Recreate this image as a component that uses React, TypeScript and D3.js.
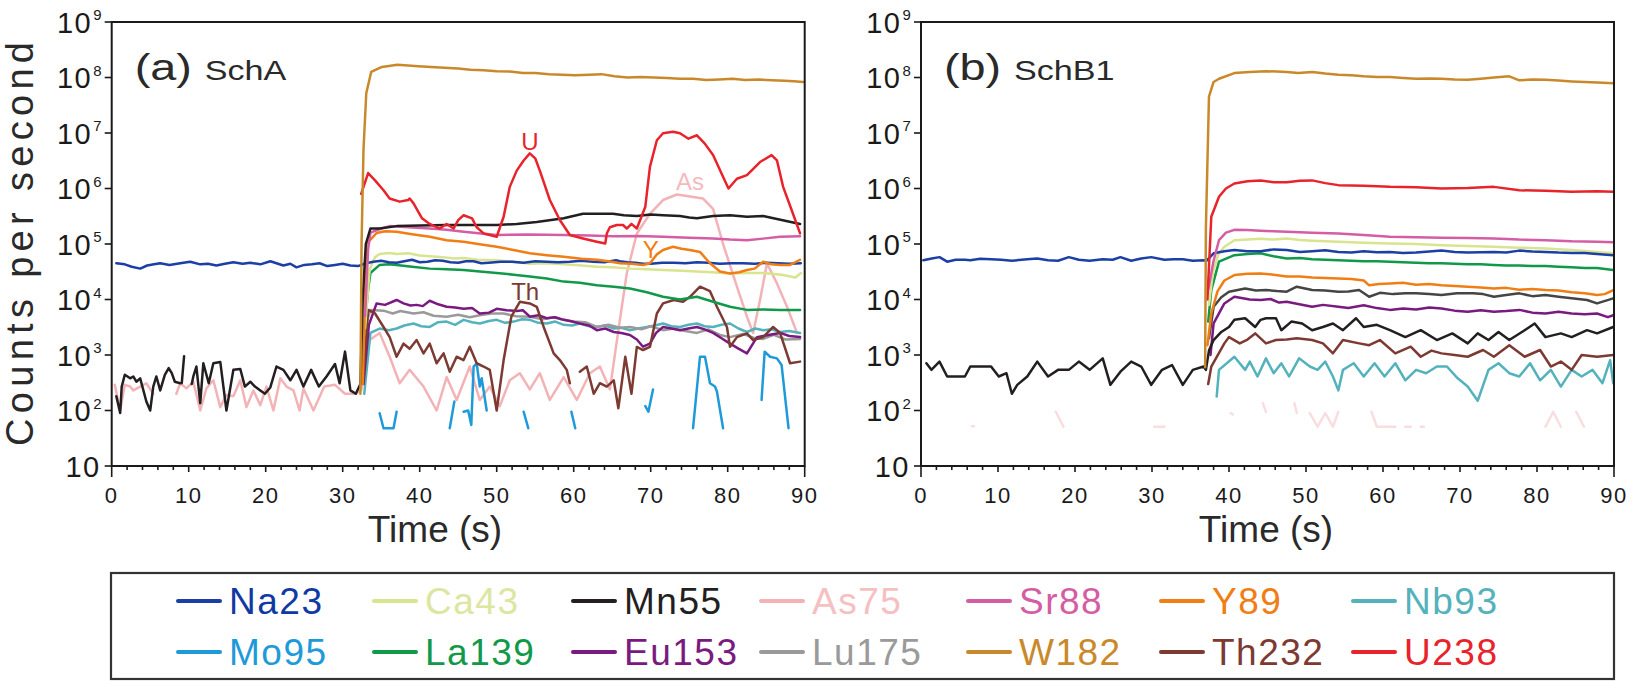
import React from "react";
import * as d3 from "d3";

type Pt = [number, number | null];

const FONT = "'Liberation Sans', Arial, Helvetica, sans-serif";

const ELEMENTS = ["Na23", "Ca43", "Mn55", "As75", "Sr88", "Y89", "Nb93", "Mo95", "La139", "Eu153", "Lu175", "W182", "Th232", "U238"];
const COLORS = ["#1b3fa5", "#d9e48e", "#231f20", "#f3b3b6", "#d45da3", "#f07e14", "#53b2bc", "#1f9ad9", "#11994a", "#7a1a80", "#9a9a9a", "#c9892b", "#7c3a33", "#e8232b"];
const LEGEND_TEXT = ["#0f3aa3", "#dde6a0", "#231f20", "#f5c0c2", "#d45da3", "#f07e14", "#53b2bc", "#1f9ad9", "#11994a", "#7a1a80", "#9a9a9a", "#c9892b", "#7c3a33", "#e8232b"];
const DRAW_ORDER = ["As75", "Mo95", "Nb93", "Lu175", "Eu153", "Th232", "La139", "Ca43", "Na23", "Y89", "Sr88", "Mn55", "U238", "W182"];

const X_TICKS = [0, 10, 20, 30, 40, 50, 60, 70, 80, 90];
const Y_EXPONENTS = [1, 2, 3, 4, 5, 6, 7, 8, 9];

// ---------- panel (a) SchA ----------
const A_NA23: Pt[] = [[0.6,4.5e4],[1.7,4.3e4],[2.6,3.9e4],[3.7,3.6e4],[4.6,4.1e4],[5.5,4.3e4],[6.3,4.5e4],[7.5,4.2e4],[8.9,4.5e4],[10.2,4.8e4],[11.5,4.3e4],[12.5,4.4e4],[13.6,4.1e4],[14.7,4.4e4],[15.8,4.7e4],[17,4.4e4],[18,4.6e4],[19.3,4.3e4],[20.6,4.9e4],[21.4,4.5e4],[22.3,4.1e4],[23.2,4.4e4],[24,3.8e4],[25,4.2e4],[26,4.3e4],[27,4.5e4],[28,4.0e4],[29,4.2e4],[30,4.4e4],[31,4.1e4],[32,4.0e4],[33,4.5e4],[34,4.8e4],[35,5.0e4],[36,4.7e4],[37,4.6e4],[38,4.9e4],[39,5.2e4],[40,4.7e4],[41,4.8e4],[42,5.1e4],[43,5.0e4],[44,4.7e4],[45,4.6e4],[46,4.9e4],[47,4.9e4],[48,4.5e4],[49,4.6e4],[50.5,4.8e4],[52,4.8e4],[53.5,4.6e4],[55,4.9e4],[56.5,4.8e4],[58,4.7e4],[59.5,4.8e4],[61,5.0e4],[62.5,4.8e4],[64,4.7e4],[65.5,5.1e4],[66,4.9e4],[67,4.7e4],[68,4.6e4],[69,4.4e4],[70,4.4e4],[71.5,4.6e4],[73,4.6e4],[74.5,4.5e4],[76,4.7e4],[77.5,4.6e4],[79,4.4e4],[80.5,4.5e4],[82,4.5e4],[83.5,4.4e4],[85,4.6e4],[86.5,4.5e4],[88,4.4e4],[89.5,4.5e4]];
const A_CA43: Pt[] = [[32.9,3e3],[33.5,3.5e4],[34.2,5.8e4],[34.8,6.6e4],[36,6.9e4],[37,6.6e4],[38.5,6.8e4],[40,6.2e4],[41.3,6.0e4],[43,5.8e4],[44.5,5.5e4],[45.7,5.6e4],[47.5,5.2e4],[50,5.1e4],[52,4.8e4],[54.3,4.4e4],[56.5,4.5e4],[58.7,4.3e4],[61,4.1e4],[63,3.9e4],[65,3.8e4],[67.3,3.6e4],[69.5,3.5e4],[71.6,3.4e4],[74,3.3e4],[76,3.2e4],[78,3.1e4],[80.3,2.95e4],[82.5,3.0e4],[84.6,3.0e4],[87,2.8e4],[88.8,2.5e4],[89.5,3.0e4]];
const A_MN55: Pt[] = [[0.6,1.8e2],[1.1,90],[1.3,2.7e2],[1.7,4.4e2],[2.4,3.8e2],[2.8,4.1e2],[3.2,3.3e2],[3.7,3.8e2],[4.5,1.45e2],[5.0,1.0e2],[5.4,2.7e2],[5.8,4.1e2],[6.3,2.3e2],[6.9,4.4e2],[7.4,5.8e2],[7.8,4.7e2],[8.2,3.3e2],[8.9,3.1e2],[9.0,null],[9.1,3.1e2],[9.4,9.5e2],[9.6,null],[10.4,3.0e2],[10.6,4.1e2],[11.0,6.2e2],[11.5,1.35e2],[11.9,7.1e2],[12.6,3.1e2],[13.2,7.1e2],[14.1,7.5e2],[14.9,1.0e2],[15.8,5.4e2],[16.7,5.6e2],[17.3,2.7e2],[18.0,3.3e2],[18.6,2.7e2],[19.3,2.3e2],[19.9,2.0e2],[20.6,2.6e2],[21.4,6.2e2],[22.3,5.4e2],[23.2,3.5e2],[24.0,5.4e2],[24.9,2.7e2],[25.9,5.4e2],[26.9,2.7e2],[27.9,4.1e2],[29.0,6.9e2],[29.6,3.1e2],[30.3,1.15e3],[31.0,2.3e2],[31.7,2.0e2],[32.3,3.0e2],[32.6,1.0e4],[33.0,1.0e5],[33.6,1.9e5],[34.8,1.9e5],[37.0,2.1e5],[40,2.15e5],[43.5,2.2e5],[47,2.2e5],[50,2.2e5],[52.6,2.3e5],[55.2,2.5e5],[58.7,2.9e5],[61.2,3.5e5],[63,3.5e5],[65.1,3.5e5],[66.5,3.3e5],[68.2,3.2e5],[70,3.4e5],[71.6,3.3e5],[73.8,3.2e5],[75,3.0e5],[76,2.9e5],[78.1,3.2e5],[80.3,3.3e5],[82.5,3.1e5],[84.6,3.2e5],[87,2.7e5],[89.4,2.3e5]];
const A_AS75: Pt[] = [[0.4,2.9e2],[1.1,1.0e2],[1.7,2.9e2],[2.4,2.7e2],[2.8,2.3e2],[3.7,2.7e2],[4.5,3.1e2],[5.4,2.0e2],[5.6,null],[8.4,2.0e2],[8.9,3.1e2],[9.7,2.5e2],[10.6,3.3e2],[11.5,1.0e2],[12.3,2.5e2],[13.2,3.5e2],[14.1,1.15e2],[14.9,1.9e2],[15.8,1.8e2],[16.7,3.5e2],[17.5,1.15e2],[18.4,2.3e2],[19.3,1.25e2],[20.1,2.7e2],[21.0,1.0e2],[21.9,3.8e2],[22.7,2.7e2],[23.6,2.3e2],[24.4,1.0e2],[24.9,2.5e2],[26.2,1.0e2],[27.6,2.7e2],[29.0,2.9e2],[30.3,2.0e2],[31.7,2.0e2],[32.4,2.3e2],[33.5,1.86e3],[34.8,2.5e3],[36.1,9.3e2],[37.4,3.1e2],[38.7,5.4e2],[40.5,2.7e2],[42.2,1.0e2],[43.5,4.0e2],[44.8,1.55e2],[46.5,6.2e2],[47.8,1.55e2],[49.1,2.7e2],[50.4,1.2e2],[51.7,3.5e2],[53,4.7e2],[54.3,2.4e2],[55.6,4.7e2],[56.9,1.55e2],[58.7,4.0e2],[60.4,1.55e2],[62.1,4.7e2],[63.4,6.2e2],[64.7,2.4e2],[66,4.3e3],[66.9,3.0e4],[68.2,1.55e5],[69.9,3.5e5],[71.6,6.2e5],[73.4,7.8e5],[75.1,7.2e5],[76.8,6.6e5],[78.1,4.3e5],[79.4,1.0e5],[81.2,1.7e4],[82.5,4.9e3],[83.3,2.5e3],[84.2,9.8e3],[85.1,4.5e4],[86.4,1.95e4],[87.7,7.4e3],[89.0,2.5e3]];
const A_SR88: Pt[] = [[32.9,5e3],[33.3,8e4],[33.6,1.6e5],[35,1.9e5],[36.1,2.1e5],[38.5,2.0e5],[41.3,1.9e5],[43.5,1.8e5],[45.7,1.66e5],[48,1.55e5],[50,1.45e5],[54,1.48e5],[58.7,1.45e5],[62,1.42e5],[65.2,1.38e5],[68.5,1.4e5],[71.6,1.35e5],[75,1.3e5],[78.1,1.26e5],[80.3,1.2e5],[82.5,1.17e5],[84.6,1.25e5],[86.8,1.35e5],[89.4,1.38e5]];
const A_Y89: Pt[] = [[32.6,3e2],[33.1,1.0e5],[34.4,1.58e5],[35.5,1.7e5],[37,1.66e5],[39,1.5e5],[41.3,1.35e5],[43.5,1.17e5],[45.7,1.1e5],[48,9.8e4],[50,8.9e4],[52,7.9e4],[54.3,6.8e4],[56.5,6.3e4],[58.7,5.9e4],[61,5.4e4],[63,5.2e4],[64.5,4.9e4],[66,4.5e4],[67.5,4.4e4],[69,4.2e4],[69.9,4.5e4],[70.8,6.5e4],[71.6,7.8e4],[72.9,8.9e4],[74,8.2e4],[75.1,7.8e4],[76.4,7.2e4],[77.7,4.5e4],[79,3.2e4],[80.3,2.95e4],[81.5,3.1e4],[82.5,3.4e4],[83.5,3.6e4],[84.6,4.8e4],[85.7,4.3e4],[86.8,4.2e4],[88.1,4.2e4],[89.4,5.2e4]];
const A_NB93: Pt[] = [[32.8,2e2],[33.6,2.5e3],[34.8,3.0e3],[36,2.8e3],[37,3.0e3],[38,3.4e3],[39.2,3.7e3],[40.2,3.3e3],[41.3,3.2e3],[42.4,3.9e3],[43.5,4.0e3],[44.6,3.5e3],[45.7,4.3e3],[46.8,3.9e3],[47.8,3.7e3],[49,4.1e3],[50,4.3e3],[51.1,3.8e3],[52.2,4.0e3],[53.3,4.4e3],[54.3,4.3e3],[55.4,3.8e3],[56.5,3.7e3],[57.6,4.0e3],[58.7,3.5e3],[59.8,3.4e3],[60.8,3.7e3],[62,3.3e3],[63,3.2e3],[64.1,3.4e3],[65.2,3.0e3],[66.2,3.1e3],[67.3,2.8e3],[68.4,3.0e3],[69.5,3.2e3],[70.5,3.4e3],[71.6,3.7e3],[72.7,3.3e3],[73.8,3.2e3],[74.9,3.5e3],[76,3.7e3],[77,3.3e3],[78.1,3.2e3],[79.2,3.5e3],[80.3,3.7e3],[81.4,3.0e3],[82.5,2.6e3],[83.6,3.0e3],[84.6,2.8e3],[85.7,2.9e3],[86.8,2.6e3],[88,2.7e3],[89.4,2.5e3]];
const A_MO95: Pt[] = [[34.8,89],[35.3,48],[36.6,48],[37.0,95],[37.2,null],[43.9,48],[44.5,1.45e2],[44.7,null],[45.7,95],[46.3,1.0e2],[46.7,55],[47.0,6.2e2],[47.4,7.1e2],[47.8,2.7e2],[48.05,3.8e2],[48.7,1.0e2],[48.9,null],[53.5,95],[54.1,48],[54.3,null],[59.7,95],[60.2,48],[60.4,null],[69.3,1.2e2],[69.7,95],[70.3,2.4e2],[70.5,null],[75.5,48],[76.4,9.3e2],[77.05,9.3e2],[77.7,3.1e2],[78.35,2.7e2],[78.6,2.2e2],[79.4,48],[79.6,null],[84.4,1.55e2],[84.8,1.15e3],[85.5,9.3e2],[86.4,8.7e2],[87.0,6.6e2],[87.9,48]];
const A_LA139: Pt[] = [[32.7,2e3],[33.3,1.5e4],[33.6,3.0e4],[34.8,4.2e4],[36,4.3e4],[37,4.2e4],[39,3.9e4],[41.3,3.6e4],[43.5,3.5e4],[45.7,3.4e4],[47.8,3.2e4],[50,3.0e4],[52.2,2.8e4],[54.3,2.6e4],[56.5,2.4e4],[58.7,2.1e4],[60.8,2.0e4],[63,1.8e4],[65.2,1.7e4],[67.3,1.58e4],[69.5,1.35e4],[71.6,1.12e4],[73.8,1.0e4],[76,1.12e4],[78.1,9.1e3],[80.3,7.4e3],[82.5,6.5e3],[84.6,6.6e3],[86.8,6.5e3],[89.4,6.5e3]];
const A_EU153: Pt[] = [[32.7,3e2],[33.4,3.5e3],[34.4,8.5e3],[35.5,8.0e3],[37,9.8e3],[37.9,8.5e3],[38.8,7.8e3],[39.6,8e3],[40.4,7.6e3],[41.3,9.5e3],[42.4,8.2e3],[43.5,7.4e3],[44.6,7.2e3],[45.7,6.8e3],[46.8,7.0e3],[47.8,5.6e3],[49,5.8e3],[50,6.8e3],[51.3,6.4e3],[52.6,6.2e3],[53.4,6.4e3],[54.3,4.9e3],[55.4,5.2e3],[56.5,4.6e3],[57.6,4.8e3],[58.7,4.3e3],[59.8,4.0e3],[60.8,3.7e3],[62,3.4e3],[63,2.8e3],[64.1,3.0e3],[65.2,2.6e3],[66.2,2.5e3],[67.3,2.3e3],[68.2,1.9e3],[69,1.41e3],[69.9,1.6e3],[70.7,2.5e3],[71.6,3.2e3],[72.7,3.0e3],[73.8,2.8e3],[74.9,3.0e3],[76,3.2e3],[77,2.9e3],[78.1,2.5e3],[79.2,2.0e3],[80.3,1.6e3],[81.4,1.3e3],[82.5,1.07e3],[83.8,2.1e3],[85.3,2.3e3],[86.8,2.5e3],[88,2.2e3],[89.4,2.1e3]];
const A_LU175: Pt[] = [[32.7,2.5e3],[33.6,6.5e3],[35.3,6.3e3],[36.5,5.6e3],[37.5,6.2e3],[39.2,5.6e3],[40.5,5.9e3],[41.8,5.1e3],[43.5,4.9e3],[45,5.3e3],[46.5,4.8e3],[47.8,5.2e3],[49.3,5.6e3],[50.9,5.6e3],[52.5,5.0e3],[54.3,4.9e3],[56,4.4e3],[57.3,4.8e3],[58.7,4.3e3],[60,4.0e3],[61.5,3.9e3],[63,3.2e3],[64.5,3.5e3],[66,3.1e3],[67.3,3.2e3],[68.8,2.9e3],[70,3.3e3],[71.6,2.8e3],[73,3.0e3],[74.5,2.7e3],[76,2.5e3],[77.5,2.9e3],[79,2.3e3],[80.3,2.1e3],[82,2.4e3],[83.5,2.0e3],[84.6,1.95e3],[86,2.3e3],[87.5,1.9e3],[89.4,1.95e3]];
const A_W182: Pt[] = [[32.3,2e2],[32.45,1e5],[32.7,5e6],[33.06,5.2e7],[33.7,1.26e8],[35.1,1.55e8],[37.1,1.7e8],[38.5,1.65e8],[39.8,1.6e8],[41.5,1.55e8],[43.2,1.5e8],[45,1.45e8],[46.6,1.38e8],[48.3,1.35e8],[50,1.3e8],[51.7,1.28e8],[53.4,1.2e8],[55,1.2e8],[56.8,1.15e8],[58.5,1.12e8],[60.2,1.1e8],[62,1.12e8],[63.6,1.15e8],[65.3,1.05e8],[67,1.0e8],[68.7,1.02e8],[70.4,1.0e8],[72.1,9.8e7],[73.8,9.5e7],[75.5,9.5e7],[77.2,9.0e7],[78.9,9.2e7],[80.6,9.5e7],[82.3,9.0e7],[84,9.2e7],[85.7,8.9e7],[87.4,8.7e7],[88.6,8.6e7],[89.8,8.3e7]];
const A_TH232: Pt[] = [[32.6,3e2],[32.9,1.0e3],[33.3,6.5e3],[34.2,5.6e3],[35.3,3.2e3],[36.1,2.1e3],[37,9.3e2],[37.9,1.6e3],[38.7,1.3e3],[39.6,1.86e3],[40.5,1.07e3],[41.3,1.6e3],[42.2,7.1e2],[43.1,1.07e3],[43.9,5.0e2],[44.8,9.3e2],[45.7,8.1e2],[46.5,1.41e3],[47.4,7.1e2],[48.3,6.2e2],[49.1,5.4e2],[50,1.0e2],[50.9,8.1e2],[51.9,4.9e3],[53,9.1e3],[54.3,8.5e3],[55.2,7.4e3],[56.1,3.2e3],[57.4,1.07e3],[58.2,8.1e2],[59.1,5.4e2],[59.5,3.1e2],[59.8,null],[60.8,5.0e2],[61.7,6.2e2],[62.6,2.0e2],[63.4,3.1e2],[64.3,2.7e2],[65.2,3.5e2],[65.8,1.1e2],[66.7,9.3e2],[67.5,2.0e2],[68.2,1.4e3],[69,1.23e3],[69.9,1.4e3],[70.8,5.6e3],[71.6,8.5e3],[73,9.8e3],[74.2,9.1e3],[75.1,1.12e4],[76.4,1.7e4],[77.7,1.41e4],[78.6,7.4e3],[79.9,3.2e3],[80.3,1.41e3],[81.2,2.1e3],[82.5,2.45e3],[83.3,1.86e3],[84.6,2.1e3],[85.9,3.2e3],[86.8,2.5e3],[88.1,7.1e2],[89.4,7.6e2]];
const A_U238: Pt[] = [[32.4,8e5],[33.3,1.9e6],[34.2,1.4e6],[35.3,9.3e5],[36.1,6.6e5],[37.4,5.8e5],[38.5,6.2e5],[38.7,6.6e5],[39.2,5.4e5],[40.3,2.9e5],[41.3,2.3e5],[42.6,1.9e5],[43.5,2.3e5],[44.4,1.9e5],[45,2.7e5],[45.7,3.3e5],[46.8,2.9e5],[47.4,2.0e5],[48.3,1.55e5],[49.1,1.45e5],[50,1.35e5],[50.9,3.1e5],[51.7,1.07e6],[52.6,2.1e6],[53.5,3.2e6],[54.3,4.3e6],[55,3.5e6],[55.6,2.1e6],[56.9,6.2e5],[58.2,2.7e5],[59.5,1.45e5],[61.2,1.26e5],[63,1.1e5],[64.1,1.02e5],[64.3,1.55e5],[64.7,2.0e5],[65.6,2.2e5],[66.4,2.2e5],[66.9,1.9e5],[67.5,2.3e5],[68.2,1.9e5],[69.3,4.7e5],[69.9,2.45e6],[70.8,7.4e6],[71.6,9.9e6],[72.9,1.05e7],[73.8,9.9e6],[74.9,7.9e6],[76,9.1e6],[77,6.5e6],[78.1,4.0e6],[79.2,1.86e6],[80.1,1.0e6],[81.2,1.5e6],[82.5,1.74e6],[84.2,3.0e6],[85.7,4.0e6],[86.4,3.2e6],[87.2,1.07e6],[88.3,4.1e5],[89.4,1.55e5]];

// ---------- panel (b) SchB1 ----------
const B_NA23: Pt[] = [[0.3,5.1e4],[1.4,5.5e4],[2.4,5.8e4],[3.4,4.8e4],[4.5,5.2e4],[5.7,5.2e4],[6.4,5.1e4],[7.7,5.4e4],[9.1,5.3e4],[10.4,5.2e4],[11.8,5.0e4],[13.8,5.3e4],[15.1,5.5e4],[16.5,5.1e4],[17.8,5.0e4],[19.2,5.8e4],[20.5,5.2e4],[21.9,5.0e4],[23.6,5.3e4],[24.9,5.2e4],[25.9,5.8e4],[27.3,5.0e4],[28.6,5.5e4],[29.9,5.8e4],[31.6,5.2e4],[32.8,5.3e4],[34.0,5.3e4],[35.3,5.0e4],[36.7,5.1e4],[37.1,5.0e4],[38.0,6.8e4],[39.4,7.4e4],[40.7,7.8e4],[42.4,7.4e4],[44.1,7.4e4],[45.8,8.0e4],[47.5,7.8e4],[49.2,7.2e4],[50.8,7.4e4],[52.5,7.7e4],[54.2,7.2e4],[55.9,7.0e4],[57.5,7.4e4],[59.2,7.1e4],[60.9,7.2e4],[62.6,6.9e4],[64.3,7.0e4],[66,7.3e4],[67.6,7.6e4],[69.3,7.2e4],[71,7.0e4],[72.7,7.1e4],[74.4,7.2e4],[76,7.0e4],[77.7,7.6e4],[79.4,7.3e4],[81.1,7.2e4],[82.8,7.0e4],[84.5,6.9e4],[86.2,6.9e4],[87.8,6.6e4],[89.9,6.3e4]];
const B_CA43: Pt[] = [[37.4,8e3],[37.9,3e4],[38.6,6.5e4],[39.4,8.9e4],[40.7,1.17e5],[42.4,1.2e5],[44.1,1.24e5],[45.8,1.2e5],[47.5,1.26e5],[49.2,1.18e5],[50.8,1.15e5],[52.5,1.12e5],[54.2,1.1e5],[57.5,1.05e5],[60.9,1.02e5],[64.3,1.0e5],[67.6,9.5e4],[71,9.2e4],[74.4,8.9e4],[77.7,8.6e4],[81.1,8.3e4],[84.5,7.8e4],[87.8,7.2e4],[89.9,6.8e4]];
const B_MN55: Pt[] = [[0.7,7.1e2],[1.35,5.4e2],[2.4,7.6e2],[3.4,4.1e2],[5.7,4.1e2],[6.4,6.2e2],[9.1,6.2e2],[10.1,4.1e2],[11.1,4.7e2],[11.8,2.0e2],[12.5,2.9e2],[13.8,4.1e2],[15.1,7.6e2],[16.5,4.1e2],[17.8,5.4e2],[19.2,5.4e2],[20.5,7.6e2],[21.9,5.4e2],[23.6,8.7e2],[24.6,2.9e2],[25.9,5.0e2],[27.3,7.6e2],[28.6,6.2e2],[29.9,2.9e2],[31.3,5.4e2],[32.6,6.6e2],[34.0,2.9e2],[35.3,5.4e2],[36.7,6.2e2],[37.0,5.4e2],[37.4,1.2e3],[38.0,1.86e3],[39,2.6e3],[40.0,3.2e3],[40.7,4.3e3],[42.1,4.6e3],[43.4,3.2e3],[44.1,4.3e3],[44.8,4.6e3],[46.1,4.6e3],[46.8,2.8e3],[48.1,4.0e3],[49.5,3.7e3],[50.8,2.8e3],[52.2,3.2e3],[53.5,3.7e3],[54.8,2.8e3],[56.5,4.6e3],[57.5,3.2e3],[59.2,3.5e3],[60.9,2.8e3],[62.9,2.1e3],[64.9,2.8e3],[67.0,1.86e3],[69.0,2.45e3],[71.0,1.62e3],[72.3,2.45e3],[73.7,1.86e3],[75.0,2.6e3],[76.4,1.86e3],[78.4,2.8e3],[79.7,3.7e3],[81.1,2.1e3],[83.1,2.45e3],[84.5,2.1e3],[86.5,2.8e3],[87.8,2.45e3],[89.9,3.2e3]];
const B_AS75: Pt[] = [[6.6,52],[6.9,52],[7.0,null],[17.5,95],[18.5,51],[18.6,null],[30.3,51],[31.6,51],[31.7,null],[40.2,90],[40.5,85],[40.6,null],[44.4,1.35e2],[44.8,95],[44.9,null],[48.5,1.35e2],[48.8,90],[48.9,null],[50.5,90],[51.5,51],[52.5,90],[53.5,51],[54.2,95],[54.3,null],[58.5,95],[59.2,51],[61.6,51],[61.7,null],[62.9,51],[63.6,51],[63.7,null],[64.9,51],[65.3,51],[65.4,null],[81.1,51],[82.1,95],[83.1,51],[83.2,null],[85.1,95],[86.1,51]];
const B_SR88: Pt[] = [[37.3,1.5e4],[38.0,5e4],[38.7,1.17e5],[39.6,1.6e5],[40.7,1.8e5],[42.4,1.78e5],[44.1,1.74e5],[45.8,1.7e5],[47.5,1.66e5],[50.8,1.6e5],[54.2,1.55e5],[57.5,1.45e5],[60.9,1.35e5],[64.3,1.32e5],[67.6,1.3e5],[71,1.28e5],[74.4,1.26e5],[77.7,1.2e5],[81.1,1.17e5],[84.5,1.12e5],[87.8,1.1e5],[89.9,1.07e5]];
const B_Y89: Pt[] = [[37.2,1.5e3],[37.7,5.6e3],[38.5,1.4e4],[39.4,2.2e4],[40.7,2.75e4],[42.4,2.9e4],[44.1,2.95e4],[45.8,2.8e4],[47.5,2.6e4],[49.2,2.6e4],[50.8,2.5e4],[52.5,2.45e4],[54.2,2.4e4],[55.9,2.35e4],[57.5,2.2e4],[58.2,1.8e4],[59.5,1.9e4],[60.9,1.95e4],[62.6,2.0e4],[64.3,1.85e4],[66,1.9e4],[67.6,1.8e4],[69.3,1.75e4],[71,1.7e4],[72.7,1.65e4],[74.4,1.58e4],[76,1.62e4],[77.7,1.5e4],[79.4,1.55e4],[81.1,1.48e4],[82.8,1.45e4],[84.5,1.35e4],[86.2,1.3e4],[87.8,1.2e4],[88.8,1.25e4],[89.9,1.48e4]];
const B_NB93: Pt[] = [[38.4,1.78e2],[38.7,5.4e2],[40.7,9.3e2],[42.1,5.4e2],[42.7,7.6e2],[43.7,4.1e2],[44.8,8.7e2],[45.8,4.7e2],[46.8,7.1e2],[47.8,4.1e2],[49.1,8.7e2],[50.5,6.2e2],[51.5,5.4e2],[52.5,7.6e2],[53.5,4.1e2],[54.2,2.3e2],[54.8,5.4e2],[56.2,7.1e2],[57.5,4.1e2],[58.9,7.1e2],[60.2,4.1e2],[61.6,7.1e2],[62.9,3.5e2],[64.3,5.4e2],[65.6,4.7e2],[67.0,6.2e2],[68.3,6.2e2],[69.7,3.8e2],[71.0,2.7e2],[72.3,1.5e2],[73.7,5.4e2],[75.0,7.1e2],[76.4,4.7e2],[77.7,4.1e2],[79.1,7.1e2],[80.4,3.5e2],[81.8,5.4e2],[83.1,2.7e2],[84.5,5.4e2],[85.8,4.1e2],[87.2,5.4e2],[88.5,3.1e2],[89.5,8.1e2],[89.9,3.1e2]];
const B_MO95: Pt[] = [];
const B_LA139: Pt[] = [[37.3,4e3],[37.7,1.48e4],[38.7,4.8e4],[40.7,6.3e4],[42.4,6.6e4],[44.1,6.8e4],[45.8,6.0e4],[47.5,5.5e4],[49.2,5.6e4],[50.8,5.3e4],[52.5,5.2e4],[54.2,5.1e4],[55.9,5.0e4],[57.5,4.9e4],[59.2,4.9e4],[60.9,4.8e4],[62.6,4.7e4],[64.3,4.6e4],[66,4.5e4],[67.6,4.5e4],[69.3,4.4e4],[71,4.3e4],[72.7,4.3e4],[74.4,4.2e4],[76,4.1e4],[77.7,4.1e4],[79.4,4.0e4],[81.1,4.0e4],[82.8,3.9e4],[84.5,3.8e4],[86.2,3.7e4],[87.8,3.7e4],[89.9,3.4e4]];
const B_EU153: Pt[] = [[37.6,1.0e3],[38.0,3.7e3],[39.4,8.5e3],[40.7,1.12e4],[41.8,1.05e4],[42.7,1.0e4],[44.1,9.8e3],[45.4,1.02e4],[46.5,8.8e3],[47.5,9.1e3],[48.8,8.4e3],[50.8,7.4e3],[52.2,8.0e3],[54.2,7.4e3],[55.5,7.0e3],[57.5,7.9e3],[59.2,7.0e3],[60.9,6.5e3],[62.6,6.9e3],[64.3,6.6e3],[66,7.2e3],[67.6,6.9e3],[69.3,6.3e3],[71,6.0e3],[72.7,6.4e3],[74.4,6.0e3],[76,6.2e3],[77.7,6.5e3],[79.4,5.8e3],[81.1,5.6e3],[82.8,6.0e3],[84.5,5.6e3],[86.2,5.4e3],[87.8,5.6e3],[89.2,4.8e3],[89.9,5.2e3]];
const B_LU175: Pt[] = [[37.4,2e3],[38.0,7.4e3],[39,1.1e4],[40.0,1.38e4],[42.1,1.58e4],[43.5,1.45e4],[44.8,1.48e4],[46.2,1.42e4],[47.5,1.38e4],[48.8,1.7e4],[50.8,1.48e4],[52.5,1.45e4],[54.2,1.38e4],[55.5,1.4e4],[56.9,1.48e4],[58.2,1.12e4],[59.6,1.32e4],[61.3,1.25e4],[62.9,1.3e4],[64.3,1.29e4],[66,1.25e4],[67.6,1.2e4],[69.6,1.3e4],[71.7,1.29e4],[73,1.25e4],[74.4,1.12e4],[76,1.2e4],[77.7,1.29e4],[79.4,1.15e4],[81.1,1.2e4],[82.8,1.12e4],[84.5,1.05e4],[86.5,9.8e3],[87.8,8.5e3],[89.9,1.05e4]];
const B_W182: Pt[] = [[36.9,6e2],[37.0,2e5],[37.4,4.5e7],[38.0,8.3e7],[38.7,9.5e7],[40.7,1.2e8],[42.7,1.26e8],[44.8,1.3e8],[46.2,1.28e8],[47.5,1.26e8],[49,1.2e8],[50.8,1.26e8],[52.5,1.18e8],[54.2,1.12e8],[55.9,1.1e8],[57.5,1.05e8],[59.2,1.02e8],[60.9,1.02e8],[62.6,9.8e7],[64.3,9.5e7],[66,9.6e7],[67.6,9.5e7],[69.3,9.2e7],[71,9.1e7],[72.7,9.5e7],[74.4,1.0e8],[76.4,1.05e8],[77.7,8.9e7],[79.4,9.2e7],[81.1,9.1e7],[82.8,8.8e7],[84.5,8.5e7],[86.2,8.3e7],[87.8,8.1e7],[89.9,7.9e7]];
const B_TH232: Pt[] = [[37.3,3e2],[37.7,6.2e2],[39.4,1.62e3],[40.0,2.1e3],[41.4,1.62e3],[42.4,1.9e3],[43.4,2.45e3],[44.8,1.62e3],[46.1,1.86e3],[47.5,1.9e3],[48.8,2.0e3],[50.8,1.86e3],[52.2,1.62e3],[53.5,1.07e3],[54.8,1.86e3],[56.9,1.62e3],[58.2,1.5e3],[59.6,1.86e3],[61.6,1.07e3],[63.6,1.41e3],[64.9,9.3e2],[66.3,1.2e3],[67.6,1.07e3],[69.3,1.0e3],[71.0,9.3e2],[73.0,1.23e3],[74.4,9.3e2],[76.4,1.5e3],[78.4,9.3e2],[80.4,1.23e3],[81.8,6.2e2],[83.1,7.6e2],[84.5,5.4e2],[85.8,1.0e3],[87.8,9.3e2],[89.9,1.0e3]];
const B_U238: Pt[] = [[37.2,1e4],[37.7,3.1e5],[38.7,7.1e5],[39.6,1.0e6],[40.7,1.23e6],[42.4,1.35e6],[44.1,1.4e6],[45.8,1.3e6],[47.5,1.3e6],[49.2,1.38e6],[50.8,1.4e6],[52.5,1.25e6],[54.2,1.15e6],[57.5,1.12e6],[60.9,1.07e6],[64.3,1.05e6],[67.6,1.0e6],[71,1.02e6],[74.4,1.07e6],[77.7,9.3e5],[81.1,9.1e5],[84.5,8.7e5],[87.8,8.9e5],[89.9,8.7e5]];

// peak annotations of panel (a): [text, time, counts, element]
const A_NOTES: [string, number, number, string][] = [["U", 54.3, 4.9e6, "U238"], ["As", 75.1, 9.3e5, "As75"], ["Y", 70.0, 5.6e4, "Y89"], ["Th", 53.7, 1.0e4, "Th232"]];

const PANEL_A: Record<string, Pt[]> = { Na23: A_NA23, Ca43: A_CA43, Mn55: A_MN55, As75: A_AS75, Sr88: A_SR88, Y89: A_Y89, Nb93: A_NB93, Mo95: A_MO95, La139: A_LA139, Eu153: A_EU153, Lu175: A_LU175, W182: A_W182, Th232: A_TH232, U238: A_U238 };
const PANEL_B: Record<string, Pt[]> = { Na23: B_NA23, Ca43: B_CA43, Mn55: B_MN55, As75: B_AS75, Sr88: B_SR88, Y89: B_Y89, Nb93: B_NB93, Mo95: B_MO95, La139: B_LA139, Eu153: B_EU153, Lu175: B_LU175, W182: B_W182, Th232: B_TH232, U238: B_U238 };

const W = 1632, H = 681;
const TOP = 22, BOTTOM = 466, PW = 693;

const colorOf = (el: string) => COLORS[ELEMENTS.indexOf(el)];

function Panel({ id, left, label, sample, data, timeX, notes, override, faded }: any) {
  const x = d3.scaleLinear().domain([0, 90]).range([left, left + PW]);
  const y = d3.scaleLog().domain([10, 1e9]).range([BOTTOM, TOP]);
  const line = d3.line<Pt>().defined(d => d[1] != null).x(d => x(d[0])).y(d => y(d[1] as number));
  const minor = d3.range(0, 91, 2);

  return (
    <g>
      <defs>
        <clipPath id={"clip-" + id}>
          <rect x={left} y={TOP} width={PW} height={BOTTOM - TOP} />
        </clipPath>
      </defs>
      <g clipPath={`url(#clip-${id})`} fill="none" strokeLinejoin="round" strokeLinecap="round">
        {DRAW_ORDER.map(el => (
          <path key={el} d={line(data[el]) || ""} stroke={(override && override[el]) || colorOf(el)}
            strokeWidth={2.5} opacity={faded && faded[el] ? faded[el] : 1} />
        ))}
      </g>
      {notes && notes.map(([t, tt, v, el]: any) => (
        <text key={t} x={x(tt)} y={y(v)} textAnchor="middle" fontSize={24} fill={colorOf(el)}
          opacity={el === "As75" ? 0.9 : 1} fontFamily={FONT}>{t}</text>
      ))}
      <rect x={left} y={TOP} width={PW} height={BOTTOM - TOP} fill="none" stroke="#1a1a1a" strokeWidth={2} />
      {minor.map(t => (
        <line key={t} x1={x(t)} x2={x(t)} y1={BOTTOM}
          y2={BOTTOM + (t === 0 || t === 90 ? 11 : t % 10 === 0 ? 6 : 4)} stroke="#1a1a1a" strokeWidth={1.6} />
      ))}
      {X_TICKS.map(t => (
        <text key={t} x={x(t)} y={503} textAnchor="middle" fontSize={22} letterSpacing={1.5}
          fill="#1a1a1a" fontFamily={FONT}>{t}</text>
      ))}
      {Y_EXPONENTS.map(e => {
        const yy = y(Math.pow(10, e));
        return (
          <g key={e}>
            <line x1={left - 7} x2={left} y1={yy} y2={yy} stroke="#1a1a1a" strokeWidth={1.6} />
            <text x={e === 1 ? left - 11 : left - 19.5} y={yy + 10.5} textAnchor="end" fontSize={29}
              letterSpacing={1.5} fill="#1a1a1a" fontFamily={FONT}>10</text>
            {e > 1 && (
              <text x={left - 18.5} y={yy - 2} fontSize={15} fill="#1a1a1a" fontFamily={FONT}>{e}</text>
            )}
          </g>
        );
      })}
      <g transform={`translate(${left + 23},80) scale(1.3,1)`}>
        <text x={0} y={0} fontSize={36} fill="#2a2a2a" fontFamily={FONT}>{label}</text>
      </g>
      <g transform={`translate(${left + 93},80) scale(1.22,1)`}>
        <text x={0} y={0} fontSize={28} fill="#2a2a2a" fontFamily={FONT}>{sample}</text>
      </g>
      <text x={timeX} y={542} textAnchor="middle" fontSize={37} fill="#2a2a2a" fontFamily={FONT}>Time (s)</text>
    </g>
  );
}

const LEGEND_ROWS = [["Na23", "Ca43", "Mn55", "As75", "Sr88", "Y89", "Nb93"], ["Mo95", "La139", "Eu153", "Lu175", "W182", "Th232", "U238"]];
const LEGEND_COL_X = [178, 374, 573, 761, 968, 1161, 1353];

function Legend() {
  const rowY = [601, 652];
  return (
    <g>
      <rect x={111} y={573} width={1503} height={106} fill="#fff" stroke="#333" strokeWidth={2.2} />
      {LEGEND_ROWS.map((row, r) => row.map((el, c) => {
        const lx = LEGEND_COL_X[c];
        const i = ELEMENTS.indexOf(el);
        return (
          <g key={el}>
            <line x1={lx} x2={lx + 42} y1={rowY[r]} y2={rowY[r]} stroke={COLORS[i]} strokeWidth={4} strokeLinecap="round" />
            <text x={lx + 51} y={rowY[r] + 13} fontSize={37} letterSpacing={1.5} fill={LEGEND_TEXT[i]} fontFamily={FONT}>{el}</text>
          </g>
        );
      }))}
    </g>
  );
}

export default function App() {
  return (
    <svg width={W} height={H} viewBox={`0 0 ${W} ${H}`}
      style={{ position: "absolute", left: 0, top: 0, background: "#fff", display: "block" }}>
      <rect x={0} y={0} width={W} height={H} fill="#fff" />
      <text transform="translate(33,244) rotate(-90)" textAnchor="middle" fontSize={38} textLength={404}
        lengthAdjust="spacing" fill="#2a2a2a" fontFamily={FONT}>Counts per second</text>
      <Panel id="a" left={111.7} label="(a)" sample="SchA" data={PANEL_A} timeX={435} notes={A_NOTES} />
      <Panel id="b" left={921} label="(b)" sample="SchB1" data={PANEL_B} timeX={1266}
        override={{ Lu175: "#454545" }} faded={{ As75: 0.45 }} />
      <Legend />
    </svg>
  );
}
